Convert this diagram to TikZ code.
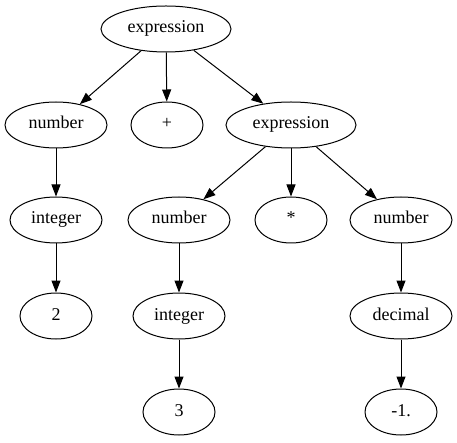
\documentclass[tikz,border=0pt]{standalone}
\usepackage{fontspec}
\setmainfont{Liberation Serif}
\usetikzlibrary{shapes.geometric,arrows.meta}
\begin{document}
\begin{tikzpicture}[x=1pt,y=-1pt,
  tn/.style={ellipse,draw,line width=1pt,inner sep=0pt,minimum height=46pt,text height=12pt,text depth=4pt,font=\fontsize{18}{20}\selectfont},
  wide/.style={tn,minimum width=130pt},
  mid/.style={tn,minimum width=102pt},
  nar/.style={tn,minimum width=72pt},
  intw/.style={tn,minimum width=92pt},
  edge/.style={draw,line width=1pt,-{Triangle[length=12pt,width=9pt]}}]
\useasboundingbox (0,0) rectangle (457,443);
\node[wide] (e1) at (166,29) {expression};
\node[mid] (n1) at (56,125) {number};
\node[nar] (plus) at (167,125) {+};
\node[wide] (e2) at (291,125) {expression};
\node[intw] (i1) at (56,220) {integer};
\node[nar] (two) at (56,316) {2};
\node[mid] (n2) at (179,220) {number};
\node[nar] (star) at (291,220) {*};
\node[mid] (n3) at (401,220) {number};
\node[intw] (i2) at (179,316) {integer};
\node[mid] (dec) at (401,316) {decimal};
\node[nar] (three) at (179,412) {3};
\node[nar] (m1) at (401,412) {-1.};
\path[edge] (e1) -- (n1);
\path[edge] (e1) -- (plus);
\path[edge] (e1) -- (e2);
\path[edge] (n1) -- (i1);
\path[edge] (i1) -- (two);
\path[edge] (e2) -- (n2);
\path[edge] (e2) -- (star);
\path[edge] (e2) -- (n3);
\path[edge] (n2) -- (i2);
\path[edge] (i2) -- (three);
\path[edge] (n3) -- (dec);
\path[edge] (dec) -- (m1);
\end{tikzpicture}
\end{document}
